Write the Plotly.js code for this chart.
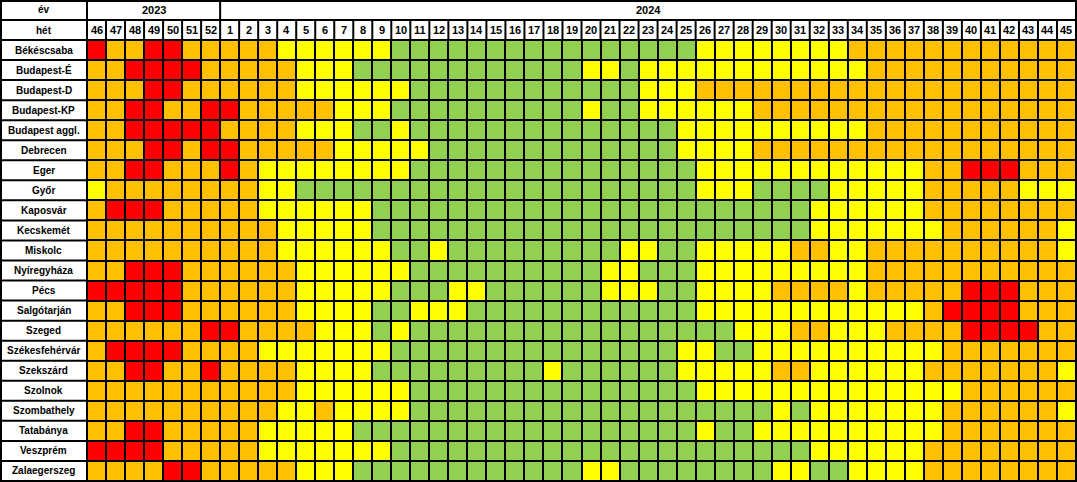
<!DOCTYPE html>
<html>
<head>
<meta charset="utf-8">
<script src="https://cdn.plot.ly/plotly-3.0.1.min.js"></script>
<style>
html,body{margin:0;padding:0;background:#fff;}
#chart{width:1077px;height:482px;}
</style>
</head>
<body>
<div id="chart"></div>
<script>
// ---- data ----
const cities = ["Békéscsaba","Budapest-É","Budapest-D","Budapest-KP","Budapest aggl.","Debrecen","Eger","Győr","Kaposvár","Kecskemét","Miskolc","Nyíregyháza","Pécs","Salgótarján","Szeged","Székesfehérvár","Szekszárd","Szolnok","Szombathely","Tatabánya","Veszprém","Zalaegerszeg"];
const weeks2023 = ["46","47","48","49","50","51","52"];
const weeks2024 = ["1","2","3","4","5","6","7","8","9","10","11","12","13","14","15","16","17","18","19","20","21","22","23","24","25","26","27","28","29","30","31","32","33","34","35","36","37","38","39","40","41","42","43","44","45"];
const yearLabels = ["2023","2024"];
// level: 1 = green, 2 = yellow, 3 = orange, 4 = red
// columns: 2023 w46-52 | 2024 w1-9 | w10-18 | w19-27 | w28-36 | w37-45
const levels = [
 /* Békéscsaba */    [4,3,3,4,4,3,3, 3,3,3,2,2,2,2,2,2, 1,1,1,1,1,1,1,1,1, 1,1,1,1,1,1,1,2,2, 2,2,2,2,2,2,3,3,3, 3,3,3,3,3,3,3,3,3],
 /* Budapest-É */    [3,3,4,4,4,4,3, 3,3,3,3,2,2,2,1,1, 1,1,1,1,1,1,1,1,1, 1,2,2,1,2,2,2,2,2, 2,2,2,2,2,2,2,3,3, 3,3,3,3,3,3,3,3,3],
 /* Budapest-D */    [3,3,3,4,4,3,3, 3,3,3,3,2,2,2,2,2, 2,1,1,1,1,1,1,1,1, 1,1,1,1,2,2,2,3,3, 3,3,3,3,3,3,3,3,3, 3,3,3,3,3,3,3,3,3],
 /* Budapest-KP */   [3,3,4,4,3,3,4, 4,3,3,3,3,3,2,2,2, 1,1,1,1,1,1,1,1,1, 1,2,1,1,2,2,2,2,2, 2,3,3,3,3,3,3,3,3, 3,3,3,3,3,3,3,3,3],
 /* Budapest aggl. */[3,3,4,4,4,4,4, 3,3,3,3,2,2,2,1,1, 2,1,1,1,1,1,1,1,1, 1,1,1,1,1,1,2,2,2, 2,2,2,2,2,2,2,3,3, 3,3,3,3,3,3,3,3,3],
 /* Debrecen */      [3,3,3,4,4,3,4, 4,3,3,3,3,3,2,2,2, 2,2,1,1,1,1,1,1,1, 1,1,1,1,1,1,2,2,2, 2,3,3,3,3,3,3,3,3, 3,3,3,3,3,3,3,3,3],
 /* Eger */          [3,3,4,4,3,3,3, 4,3,2,2,2,2,2,2,2, 2,1,1,1,1,1,1,1,1, 1,1,1,1,1,1,1,2,2, 2,2,2,2,2,2,2,2,2, 2,3,3,4,4,4,3,3,3],
 /* Győr */          [2,3,3,3,3,3,3, 3,3,2,2,1,1,1,1,1, 1,1,1,1,1,1,1,1,1, 1,1,1,1,1,1,1,2,2, 2,1,1,1,1,2,2,2,2, 2,3,3,3,3,3,2,2,2],
 /* Kaposvár */      [3,4,4,4,3,3,3, 3,3,2,2,2,2,2,2,1, 1,1,1,1,1,1,1,1,1, 1,1,1,1,1,1,1,1,1, 1,1,1,1,2,2,2,2,2, 2,3,3,3,3,3,3,3,3],
 /* Kecskemét */     [3,3,3,3,3,3,3, 3,3,3,2,2,2,2,2,1, 1,1,1,1,1,1,1,1,1, 1,1,1,1,1,1,1,1,1, 1,1,1,1,2,2,2,2,2, 2,2,3,3,3,3,3,3,2],
 /* Miskolc */       [3,3,3,3,3,3,3, 3,3,3,2,2,2,2,2,2, 1,1,2,1,1,1,1,1,1, 1,1,1,2,2,1,1,2,2, 2,2,2,3,3,2,2,3,3, 3,3,3,3,3,3,3,3,2],
 /* Nyíregyháza */   [3,3,4,4,4,3,3, 3,3,3,3,2,2,2,2,2, 2,1,1,1,1,1,1,1,1, 1,1,2,2,1,1,1,2,2, 2,2,2,2,2,2,2,3,3, 3,3,3,3,3,3,3,3,3],
 /* Pécs */          [4,4,4,4,4,3,3, 3,3,3,3,2,2,2,2,2, 1,1,1,2,2,1,1,1,1, 1,1,2,2,2,1,1,2,2, 2,2,3,3,3,3,2,3,3, 3,3,3,4,4,4,3,3,3],
 /* Salgótarján */   [3,3,4,4,4,3,3, 3,3,3,3,2,2,2,2,1, 1,2,2,2,1,1,1,1,1, 1,1,1,1,1,1,1,2,2, 2,2,2,2,2,2,2,2,2, 2,3,4,4,4,4,3,3,3],
 /* Szeged */        [3,3,3,3,3,3,4, 4,3,3,3,3,2,2,2,1, 2,1,1,1,1,1,1,1,1, 1,1,1,1,1,1,1,1,1, 2,2,2,3,3,2,2,2,3, 3,3,3,4,4,4,4,3,3],
 /* Székesfehérvár */[3,4,4,4,4,3,3, 3,3,2,2,2,2,2,2,2, 1,1,1,1,1,1,1,1,1, 1,1,1,1,1,1,2,2,1, 1,2,2,2,2,2,2,2,2, 2,2,3,3,3,3,3,3,3],
 /* Szekszárd */     [3,3,4,4,3,3,4, 3,3,3,3,2,2,2,2,1, 1,1,1,1,1,1,1,1,2, 1,1,1,1,1,1,2,2,2, 2,2,3,3,2,2,2,2,2, 2,3,3,3,3,3,3,3,2],
 /* Szolnok */       [3,3,3,3,3,3,3, 3,3,3,3,2,2,2,2,2, 2,1,1,1,1,1,1,1,1, 1,1,1,1,1,1,1,2,2, 2,2,2,2,2,2,2,2,2, 2,2,2,3,3,3,3,3,3],
 /* Szombathely */   [3,3,3,3,3,3,3, 3,3,3,2,2,3,2,2,2, 2,1,1,1,1,1,1,1,1, 1,1,1,1,1,1,1,1,1, 1,1,2,1,2,2,2,2,2, 2,2,3,3,3,3,3,3,2],
 /* Tatabánya */     [3,3,4,4,3,3,3, 3,3,2,2,2,2,2,1,1, 1,1,1,1,1,1,1,1,1, 1,1,1,1,1,1,1,2,1, 1,2,2,2,2,2,2,2,2, 2,2,3,3,3,3,3,3,3],
 /* Veszprém */      [4,4,4,4,3,3,3, 3,3,2,2,2,2,2,2,2, 1,1,1,1,1,1,1,1,1, 1,1,1,1,1,1,1,1,1, 1,1,1,1,2,2,2,2,2, 2,3,3,3,3,3,3,3,3],
 /* Zalaegerszeg */  [3,3,3,3,4,4,3, 3,3,3,3,2,2,2,1,1, 1,1,1,1,1,1,1,1,1, 1,2,2,1,1,1,1,1,1, 1,1,2,2,1,1,2,2,2, 2,3,3,3,3,3,3,3,3]
];

// ---- styling ----
const GREEN = "#92D050", YELLOW = "#FFFF00", ORANGE = "#FFC000", RED = "#FF0000";
const W = 1077, H = 482, ML = 87, MR = 1, MT = 40, MB = 1;
const PW = W - ML - MR, PH = H - MT - MB;
const px = fx => (fx - ML) / PW;      // figure pixel x -> paper
const py = fy => (H - MB - fy) / PH;  // figure pixel y -> paper

const weeks = weeks2023.concat(weeks2024);
const nCols = weeks.length, nRows = cities.length;
const fontB = {family: "Liberation Sans, Arial, sans-serif", size: 10, color: "#000", weight: "bold"};
const fontN = {family: "Liberation Sans, Arial, sans-serif", size: 11, color: "#000", weight: "bold"};

const trace = {
  type: "heatmap",
  x: weeks,
  y: cities,
  z: levels,
  zmin: 0.5, zmax: 4.5,
  colorscale: [[0, GREEN],[0.25, GREEN],[0.25, YELLOW],[0.5, YELLOW],[0.5, ORANGE],[0.75, ORANGE],[0.75, RED],[1, RED]],
  showscale: false,
  xgap: 2, ygap: 2,
  hoverinfo: "skip"
};

const shapes = [];
function ln(x0, y0, x1, y1) {
  shapes.push({type: "line", xref: "paper", yref: "paper", x0: x0, y0: y0, x1: x1, y1: y1,
               line: {color: "#000", width: 2}});
}
// outer table frame + header lines
ln(px(0), py(1), px(W - 1), py(1));
ln(px(0), py(20), px(W - 1), py(20));
ln(px(0), py(40), px(ML), py(40));
ln(px(1), py(0), px(1), py(H - 1));
ln(px(0), py(H - 1), px(ML), py(H - 1));
ln(0, py(0), 0, py(40));
ln(1, py(0), 1, py(40));
ln(weeks2023.length / nCols, py(0), weeks2023.length / nCols, py(40));
for (let i = 1; i < nCols; i++) {
  if (i === weeks2023.length) continue;
  ln(i / nCols, py(20), i / nCols, py(40));
}
for (let j = 1; j < nRows; j++) {
  ln(px(0), j / nRows, 0, j / nRows);
}
shapes.push({type: "rect", xref: "paper", yref: "paper", x0: 0, y0: 0, x1: 1, y1: 1,
             line: {color: "#000", width: 2}});

const annotations = [];
const yRow0 = py(10), yRow1 = py(30), xLab = px(ML / 2);
annotations.push({text: "év", xref: "paper", yref: "paper", x: xLab, y: yRow0, showarrow: false, font: fontB, xanchor: "center", yanchor: "middle"});
annotations.push({text: "hét", xref: "paper", yref: "paper", x: xLab, y: yRow1, showarrow: false, font: fontB, xanchor: "center", yanchor: "middle"});
annotations.push({text: yearLabels[0], xref: "x", yref: "paper", x: (weeks2023.length - 1) / 2, y: yRow0, showarrow: false, font: fontN, xanchor: "center", yanchor: "middle"});
annotations.push({text: yearLabels[1], xref: "x", yref: "paper", x: weeks2023.length + (weeks2024.length - 1) / 2, y: yRow0, showarrow: false, font: fontN, xanchor: "center", yanchor: "middle"});
weeks.forEach((w, i) => annotations.push({text: w, xref: "x", yref: "paper", x: i, y: yRow1, showarrow: false, font: fontN, xanchor: "center", yanchor: "middle"}));
cities.forEach((c, j) => annotations.push({text: c, xref: "paper", yref: "y", x: xLab, y: j, showarrow: false, font: fontB, xanchor: "center", yanchor: "middle"}));

const layout = {
  width: W, height: H,
  margin: {l: ML, r: MR, t: MT, b: MB, pad: 0},
  paper_bgcolor: "#fff",
  plot_bgcolor: "#000",
  showlegend: false,
  xaxis: {type: "category", range: [-0.5, nCols - 0.5], autorange: false, showticklabels: false, showgrid: false, zeroline: false, ticks: "", fixedrange: true},
  yaxis: {type: "category", range: [nRows - 0.5, -0.5], autorange: false, showticklabels: false, showgrid: false, zeroline: false, ticks: "", fixedrange: true},
  shapes: shapes,
  annotations: annotations
};

Plotly.newPlot("chart", [trace], layout, {displayModeBar: false, staticPlot: true});
</script>
</body>
</html>
